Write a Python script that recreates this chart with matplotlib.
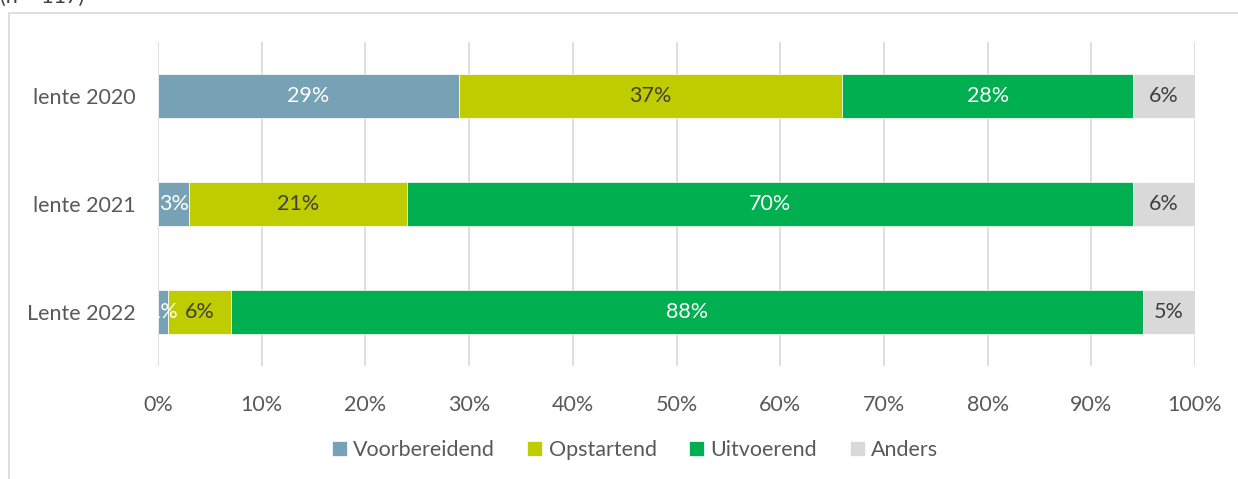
import matplotlib
matplotlib.use('Agg')
import matplotlib.pyplot as plt
from matplotlib.patches import Rectangle

plt.rcParams['font.family'] = ['Lato', 'DejaVu Sans']

periods = ['lente 2020', 'lente 2021', 'Lente 2022']
series = ['Voorbereidend', 'Opstartend', 'Uitvoerend', 'Anders']
values = {
	'Voorbereidend': [29, 3, 1],
	'Opstartend': [37, 21, 6],
	'Uitvoerend': [28, 70, 88],
	'Anders': [6, 6, 5],
}
colors = {
	'Voorbereidend': '#77A2B5',
	'Opstartend': '#BFCC00',
	'Uitvoerend': '#00B050',
	'Anders': '#D9D9D9',
}
label_colors = {
	'Voorbereidend': 'white',
	'Opstartend': '#404040',
	'Uitvoerend': 'white',
	'Anders': '#404040',
}
text_gray = '#595959'
fs = 15.5

fig = plt.figure(figsize=(12.38, 4.79), dpi=100)
ax = fig.add_axes([158 / 1238, 113 / 479, 1037 / 1238, 324 / 479])

# outer chart border (partly cut off like in the source)
fig.patches.append(Rectangle((9 / 1238, -0.1), 1.2, 1 - 13 / 479 + 0.1,
	transform=fig.transFigure, fill=False, ec='#D9D9D9', lw=1.2))
fig.text(0.0, 1 - 3 / 479, '(n = 117)', fontsize=fs, color='#404040',
	va='baseline', ha='left')

y = [2, 1, 0]
left = [0, 0, 0]
for s in series:
	vals = values[s]
	ax.barh(y, vals, left=left, height=0.4, color=colors[s],
		edgecolor='white', linewidth=0.5, label=s, zorder=3)
	for yi, l, v in zip(y, left, vals):
		ax.text(l + v / 2, yi, '%d%%' % v, ha='center', va='center',
			color=label_colors[s], fontsize=fs, zorder=4)
	left = [a + b for a, b in zip(left, vals)]

ax.set_xlim(0, 100)
ax.set_ylim(-0.5, 2.5)
ax.set_xticks(range(0, 101, 10))
ax.set_xticklabels(['%d%%' % t for t in range(0, 101, 10)])
ax.set_yticks(y)
ax.set_yticklabels(periods)
ax.tick_params(length=0, labelsize=fs, colors=text_gray)
ax.tick_params(axis='x', pad=21)
ax.tick_params(axis='y', pad=16)
ax.grid(axis='x', color='#D9D9D9', lw=1.2, zorder=0)
for sp in ax.spines.values():
	sp.set_visible(False)

fig.legend(loc='center', bbox_to_anchor=(635 / 1238, 1 - 450 / 479), ncol=4,
	frameon=False, handlelength=0.7, handleheight=0.7, handletextpad=0.3,
	columnspacing=1.5, fontsize=fs, labelcolor=text_gray)

fig.savefig('out.png', dpi=100)
